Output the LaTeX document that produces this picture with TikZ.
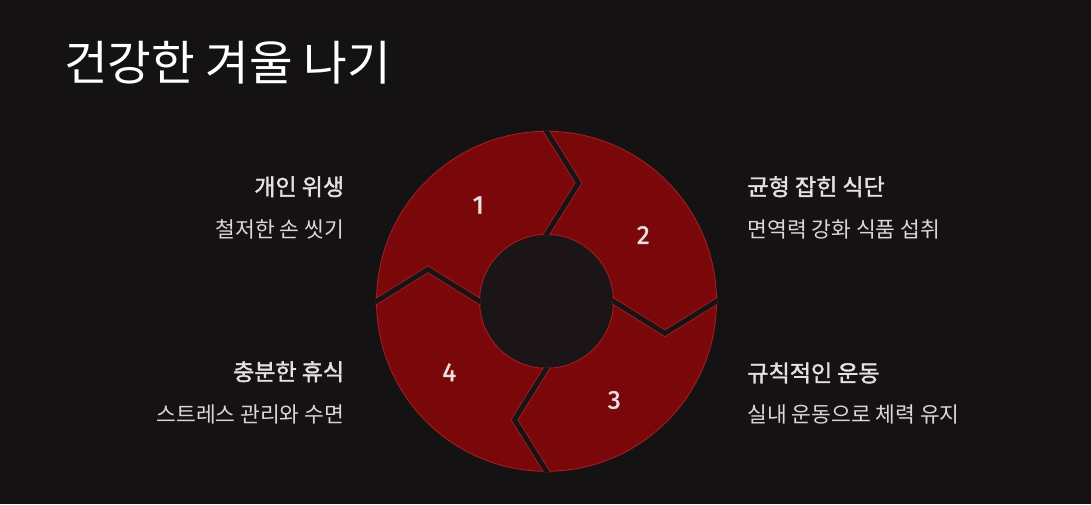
\documentclass[tikz,border=0pt]{standalone}
\usepackage{fontspec}
\newfontfamily\kr{Noto Sans CJK KR}
\newfontfamily\krsemi[FakeBold=1.6]{Noto Sans CJK KR}
\newfontfamily\numfont[FakeBold=1.4]{Fira Sans}
\usetikzlibrary{calc}
\definecolor{bg}{HTML}{141213}
\definecolor{hole}{HTML}{1B1517}
\definecolor{segred}{HTML}{7A0709}
\definecolor{segborder}{HTML}{A01E24}
\definecolor{gapcol}{HTML}{181314}
\definecolor{labtext}{HTML}{E6E1E1}
\definecolor{subtext}{HTML}{DCD7D7}
\tikzset{
  titletext/.style={font=\kr\fontsize{47.5}{54}\selectfont, text=white, inner sep=0pt},
  headtext/.style={font=\krsemi\fontsize{23}{28}\selectfont, text=labtext, inner sep=0pt},
  subtxt/.style={font=\kr\fontsize{21.5}{26}\selectfont, text=subtext, inner sep=0pt},
  numtext/.style={font=\numfont\fontsize{26}{30}\selectfont, text=labtext, inner sep=0pt},
  sepborder/.style={draw=segborder, line width=6.6pt},
  sepgap/.style={draw=gapcol, line width=4.8pt},
}
\begin{document}
\begin{tikzpicture}[x=1pt,y=-1pt]
\fill[bg] (0,0) rectangle (1091,504);
\useasboundingbox (0,0) rectangle (1091,504);
\coordinate (c) at (546.5,301.3);
% ring
\fill[segred, even odd rule] (c) circle[radius=170] (c) circle[radius=67];
\fill[hole] (c) circle[radius=67];
\draw[segborder, line width=0.9pt] (c) circle[radius=170] (c) circle[radius=67];
% separators
\begin{scope}
\clip ($(c)+(171,0)$) arc[start angle=0,end angle=360,radius=171]
  -- ($(c)+(66,0)$) arc[start angle=360,end angle=0,radius=66] -- cycle;
\coordinate (tA) at ($(c)+(-8,-182.9)$);
\coordinate (tT) at ($(c)+(32,-118.5)$);
\coordinate (tB) at ($(c)+(-8,-54.1)$);
\coordinate (rA) at ($(c)+(182.9,-8)$);
\coordinate (rT) at ($(c)+(118.5,32)$);
\coordinate (rB) at ($(c)+(54.1,-8)$);
\coordinate (bA) at ($(c)+(8,182.9)$);
\coordinate (bT) at ($(c)+(-32,118.5)$);
\coordinate (bB) at ($(c)+(8,54.1)$);
\coordinate (lA) at ($(c)+(-182.9,8)$);
\coordinate (lT) at ($(c)+(-118.5,-32)$);
\coordinate (lB) at ($(c)+(-54.1,8)$);
\foreach \s in {t,r,b,l}{
  \draw[sepborder] (\s A) -- (\s T) -- (\s B);
}
\foreach \s in {t,r,b,l}{
  \draw[sepgap] (\s A) -- (\s T) -- (\s B);
}
\end{scope}
% numbers
\node[numtext] (n1) at (478.3,205) {1};
\node[numtext] (n2) at (643.3,235) {2};
\node[numtext] (n3) at (614.3,400) {3};
\node[numtext] (n4) at (449.3,372.3) {4};
% title
\node[titletext, anchor=west] (title) at (64,63) {건강한 겨울 나기};
% labels
\node[headtext, anchor=east] (h1) at (344.3,186.7) {개인 위생};
\node[subtxt, anchor=east] (s1) at (344.3,229.3) {철저한 손 씻기};
\node[headtext, anchor=east] (h4) at (344.3,371.7) {충분한 휴식};
\node[subtxt, anchor=east] (s4) at (344.3,414) {스트레스 관리와 수면};
\node[headtext, anchor=west] (h2) at (747.3,186.7) {균형 잡힌 식단};
\node[subtxt, anchor=west] (s2) at (747.3,229.3) {면역력 강화 식품 섭취};
\node[headtext, anchor=west] (h3) at (747.3,373) {규칙적인 운동};
\node[subtxt, anchor=west] (s3) at (747.3,414) {실내 운동으로 체력 유지};
\end{tikzpicture}
\end{document}
